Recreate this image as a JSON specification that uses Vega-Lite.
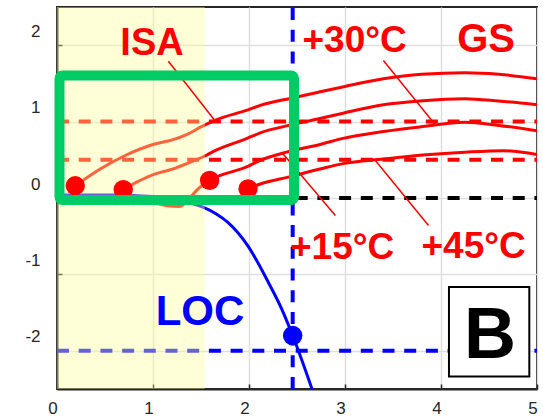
{
  "$schema": "https://vega.github.io/schema/vega-lite/v6.json",
  "width": 480,
  "height": 382,
  "autosize": {"type": "none"},
  "padding": {"left": 57, "top": 7, "right": 6, "bottom": 28},
  "background": "#ffffff",
  "config": {"view": {"stroke": "#262626", "strokeWidth": 2}, "font": "Liberation Sans"},
  "resolve": {"scale": {"color": "independent"}},
  "datasets": {
    "refs": [
      {"kind": "red", "x": 0, "x2": 5, "y": 1.0, "y2": 1.0},
      {"kind": "red", "x": 0, "x2": 5, "y": 0.5, "y2": 0.5},
      {"kind": "black", "x": 0, "x2": 5, "y": 0, "y2": 0},
      {"kind": "blue", "x": 0, "x2": 5, "y": -2, "y2": -2},
      {"kind": "blue", "x": 2.455, "x2": 2.455, "y": -2.5, "y2": 2.5}
    ],
    "curves": [
      {"series": "c1", "x": 0.19, "y": 0.16}, {"series": "c1", "x": 0.45, "y": 0.38}, {"series": "c1", "x": 0.7, "y": 0.55},
      {"series": "c1", "x": 1.0, "y": 0.70}, {"series": "c1", "x": 1.2, "y": 0.76}, {"series": "c1", "x": 1.35, "y": 0.83},
      {"series": "c1", "x": 1.5, "y": 0.93}, {"series": "c1", "x": 1.65, "y": 1.02}, {"series": "c1", "x": 1.98, "y": 1.15},
      {"series": "c1", "x": 2.11, "y": 1.21}, {"series": "c1", "x": 2.45, "y": 1.31}, {"series": "c1", "x": 2.74, "y": 1.39},
      {"series": "c1", "x": 3.0, "y": 1.46}, {"series": "c1", "x": 3.4, "y": 1.56}, {"series": "c1", "x": 3.8, "y": 1.62},
      {"series": "c1", "x": 4.25, "y": 1.64}, {"series": "c1", "x": 4.6, "y": 1.62}, {"series": "c1", "x": 5.0, "y": 1.56},
      {"series": "c2", "x": 0.69, "y": 0.11}, {"series": "c2", "x": 0.85, "y": 0.22}, {"series": "c2", "x": 1.01, "y": 0.31},
      {"series": "c2", "x": 1.18, "y": 0.37}, {"series": "c2", "x": 1.35, "y": 0.45}, {"series": "c2", "x": 1.54, "y": 0.55},
      {"series": "c2", "x": 1.63, "y": 0.61}, {"series": "c2", "x": 1.98, "y": 0.78}, {"series": "c2", "x": 2.11, "y": 0.85},
      {"series": "c2", "x": 2.45, "y": 0.96}, {"series": "c2", "x": 2.74, "y": 1.04}, {"series": "c2", "x": 2.98, "y": 1.11},
      {"series": "c2", "x": 3.4, "y": 1.22}, {"series": "c2", "x": 3.78, "y": 1.27}, {"series": "c2", "x": 4.25, "y": 1.30},
      {"series": "c2", "x": 4.6, "y": 1.27}, {"series": "c2", "x": 5.0, "y": 1.22},
      {"series": "c3", "x": 0.8, "y": 0.0}, {"series": "c3", "x": 1.0, "y": -0.06}, {"series": "c3", "x": 1.14, "y": -0.10},
      {"series": "c3", "x": 1.28, "y": -0.11}, {"series": "c3", "x": 1.39, "y": 0.01}, {"series": "c3", "x": 1.47, "y": 0.12},
      {"series": "c3", "x": 1.59, "y": 0.23}, {"series": "c3", "x": 1.98, "y": 0.41}, {"series": "c3", "x": 2.11, "y": 0.49},
      {"series": "c3", "x": 2.39, "y": 0.60}, {"series": "c3", "x": 2.74, "y": 0.70}, {"series": "c3", "x": 2.98, "y": 0.78},
      {"series": "c3", "x": 3.4, "y": 0.87}, {"series": "c3", "x": 3.78, "y": 0.93}, {"series": "c3", "x": 4.25, "y": 0.99},
      {"series": "c3", "x": 4.6, "y": 0.95}, {"series": "c3", "x": 5.0, "y": 0.88},
      {"series": "c4", "x": 1.99, "y": 0.12}, {"series": "c4", "x": 2.11, "y": 0.18}, {"series": "c4", "x": 2.43, "y": 0.28},
      {"series": "c4", "x": 2.74, "y": 0.38}, {"series": "c4", "x": 2.98, "y": 0.45}, {"series": "c4", "x": 3.4, "y": 0.51},
      {"series": "c4", "x": 3.78, "y": 0.56}, {"series": "c4", "x": 4.25, "y": 0.60}, {"series": "c4", "x": 4.65, "y": 0.62},
      {"series": "c4", "x": 5.0, "y": 0.57},
      {"series": "LOC", "x": 0, "y": 0.04}, {"series": "LOC", "x": 0.6, "y": 0.04}, {"series": "LOC", "x": 1.0, "y": 0.02},
      {"series": "LOC", "x": 1.2, "y": -0.02}, {"series": "LOC", "x": 1.4, "y": -0.07}, {"series": "LOC", "x": 1.52, "y": -0.12},
      {"series": "LOC", "x": 1.66, "y": -0.21}, {"series": "LOC", "x": 1.78, "y": -0.32}, {"series": "LOC", "x": 1.99, "y": -0.63},
      {"series": "LOC", "x": 2.2, "y": -1.1}, {"series": "LOC", "x": 2.34, "y": -1.45}, {"series": "LOC", "x": 2.455, "y": -1.8},
      {"series": "LOC", "x": 2.67, "y": -2.55}
    ],
    "zone": [{"x": 0, "x2": 1.54, "y": -2.5, "y2": 2.5}],
    "annots": [
      {"label": "ISA", "x": 1.16, "x2": 1.646, "y": 1.79, "y2": 1.01},
      {"label": "+30°C", "x": 3.40, "x2": 3.94, "y": 1.80, "y2": 0.96},
      {"label": "+15°C", "x": 2.34, "x2": 2.90, "y": 0.60, "y2": -0.23},
      {"label": "+45°C", "x": 3.31, "x2": 3.87, "y": 0.50, "y2": -0.36}
    ],
    "dots": [
      {"series": "c1", "x": 0.19, "y": 0.16},
      {"series": "c2", "x": 0.69, "y": 0.11},
      {"series": "c3", "x": 1.59, "y": 0.23},
      {"series": "c4", "x": 1.99, "y": 0.12},
      {"series": "LOC", "x": 2.455, "y": -1.8}
    ],
    "box": [{"x": 0.026, "x2": 2.469, "y": 1.603, "y2": -0.026}],
    "bbox": [{"x": 4.083, "x2": 4.92, "y": -1.166, "y2": -2.335}],
    "texts": [
      {"label": "ISA", "x": 0.99, "y": 1.87},
      {"label": "+30°C", "x": 3.10, "y": 1.91},
      {"label": "GS", "x": 4.47, "y": 1.91},
      {"label": "+15°C", "x": 2.97, "y": -0.80},
      {"label": "+45°C", "x": 4.34, "y": -0.78},
      {"label": "LOC", "x": 1.49, "y": -1.66},
      {"label": "B", "x": 4.51, "y": -2.095}
    ]
  },
  "encoding": {
    "x": {
      "field": "x", "type": "quantitative",
      "scale": {"domain": [0, 5], "nice": false, "zero": false},
      "axis": {
        "title": null, "values": [0, 1, 2, 3, 4, 5], "grid": true, "gridColor": "#DFDFDF", "gridWidth": 1.5,
        "domainColor": "#262626", "domainWidth": 2, "tickColor": "#262626", "tickSize": -5, "tickWidth": 1.5,
        "labelFont": "Liberation Sans", "labelFontSize": 17, "labelColor": "#262626",
        "labelPadding": 16, "labelOffset": -4.5, "labelFlush": false, "labelBaseline": "top", "labelAlign": "center"
      }
    },
    "y": {
      "field": "y", "type": "quantitative",
      "scale": {"domain": [-2.5, 2.5], "nice": false, "zero": false},
      "axis": {
        "title": null, "values": [-2, -1, 0, 1, 2], "grid": true, "gridColor": "#DFDFDF", "gridWidth": 1.5,
        "domainColor": "#262626", "domainWidth": 2, "tickColor": "#262626", "tickSize": -5, "tickWidth": 1.5,
        "labelFont": "Liberation Sans", "labelFontSize": 17, "labelColor": "#262626",
        "labelExpr": "datum.value < 0 ? '-' + abs(datum.value) : '' + datum.value",
        "labelPadding": 22, "labelOffset": -14, "labelFlush": false, "labelAlign": "right", "labelBaseline": "middle",
        "encode": {"labels": {"update": {"dx": {"signal": "datum.value < 0 ? -5 : 0"}}}}
      }
    }
  },
  "layer": [
    {
      "data": {"name": "refs"},
      "mark": {"type": "rule", "strokeWidth": 4, "strokeDash": [12, 9.7]},
      "encoding": {
        "x2": {"field": "x2"}, "y2": {"field": "y2"},
        "color": {"field": "kind", "type": "nominal", "scale": {"domain": ["red", "black", "blue"], "range": ["#FF0000", "#000000", "#0000FF"]}, "legend": null}
      }
    },
    {
      "data": {"name": "curves"},
      "mark": {"type": "line", "strokeWidth": 3, "interpolate": "monotone", "clip": true},
      "encoding": {
        "color": {"field": "series", "type": "nominal", "scale": {"domain": ["c1", "c2", "c3", "c4", "LOC"], "range": ["#FF0000", "#FF0000", "#FF0000", "#FF0000", "#0000FF"]}, "legend": null}
      }
    },
    {
      "data": {"name": "zone"},
      "mark": {"type": "rect", "fill": "#FFFF99", "opacity": 0.39},
      "encoding": {"x2": {"field": "x2"}, "y2": {"field": "y2"}}
    },
    {
      "data": {"name": "annots"},
      "mark": {"type": "rule", "strokeWidth": 1.5, "color": "#FF0000"},
      "encoding": {"x2": {"field": "x2"}, "y2": {"field": "y2"}}
    },
    {
      "data": {"name": "dots"},
      "transform": [{"filter": "datum.series !== 'LOC'"}],
      "mark": {"type": "point", "filled": true, "opacity": 1, "size": 375, "strokeWidth": 0, "color": "#FF0000"}
    },
    {
      "data": {"name": "dots"},
      "transform": [{"filter": "datum.series === 'LOC'"}],
      "mark": {"type": "point", "filled": true, "opacity": 1, "size": 380, "strokeWidth": 0, "color": "#0000FF"}
    },
    {
      "data": {"name": "box"},
      "mark": {"type": "rect", "fillOpacity": 0, "stroke": "#00CC66", "strokeWidth": 10, "cornerRadius": 3, "strokeJoin": "round"},
      "encoding": {"x2": {"field": "x2"}, "y2": {"field": "y2"}}
    },
    {
      "data": {"name": "bbox"},
      "mark": {"type": "rect", "fill": "#FFFFFF", "stroke": "#000000", "strokeWidth": 2},
      "encoding": {"x2": {"field": "x2"}, "y2": {"field": "y2"}}
    },
    {
      "data": {"name": "texts"},
      "transform": [{"filter": "indexof(['+30°C','+15°C','+45°C'], datum.label) >= 0"}],
      "mark": {"type": "text", "font": "Liberation Sans", "fontWeight": "bold", "fontSize": 37, "align": "center", "baseline": "alphabetic", "color": "#FF0000"},
      "encoding": {"text": {"field": "label"}}
    },
    {
      "data": {"name": "texts"},
      "transform": [{"filter": "datum.label === 'ISA'"}],
      "mark": {"type": "text", "font": "Liberation Sans", "fontWeight": "bold", "fontSize": 38, "align": "center", "baseline": "alphabetic", "color": "#FF0000"},
      "encoding": {"text": {"field": "label"}}
    },
    {
      "data": {"name": "texts"},
      "transform": [{"filter": "datum.label === 'GS'"}],
      "mark": {"type": "text", "font": "Liberation Sans", "fontWeight": "bold", "fontSize": 40, "align": "center", "baseline": "alphabetic", "color": "#FF0000"},
      "encoding": {"text": {"field": "label"}}
    },
    {
      "data": {"name": "texts"},
      "transform": [{"filter": "datum.label === 'LOC'"}],
      "mark": {"type": "text", "font": "Liberation Sans", "fontWeight": "bold", "fontSize": 42, "align": "center", "baseline": "alphabetic", "color": "#0000FF"},
      "encoding": {"text": {"field": "label"}}
    },
    {
      "data": {"name": "texts"},
      "transform": [{"filter": "datum.label === 'B'"}],
      "mark": {"type": "text", "font": "Liberation Sans", "fontWeight": "bold", "fontSize": 72, "align": "center", "baseline": "alphabetic", "color": "#000000"},
      "encoding": {"text": {"field": "label"}}
    }
  ]
}
